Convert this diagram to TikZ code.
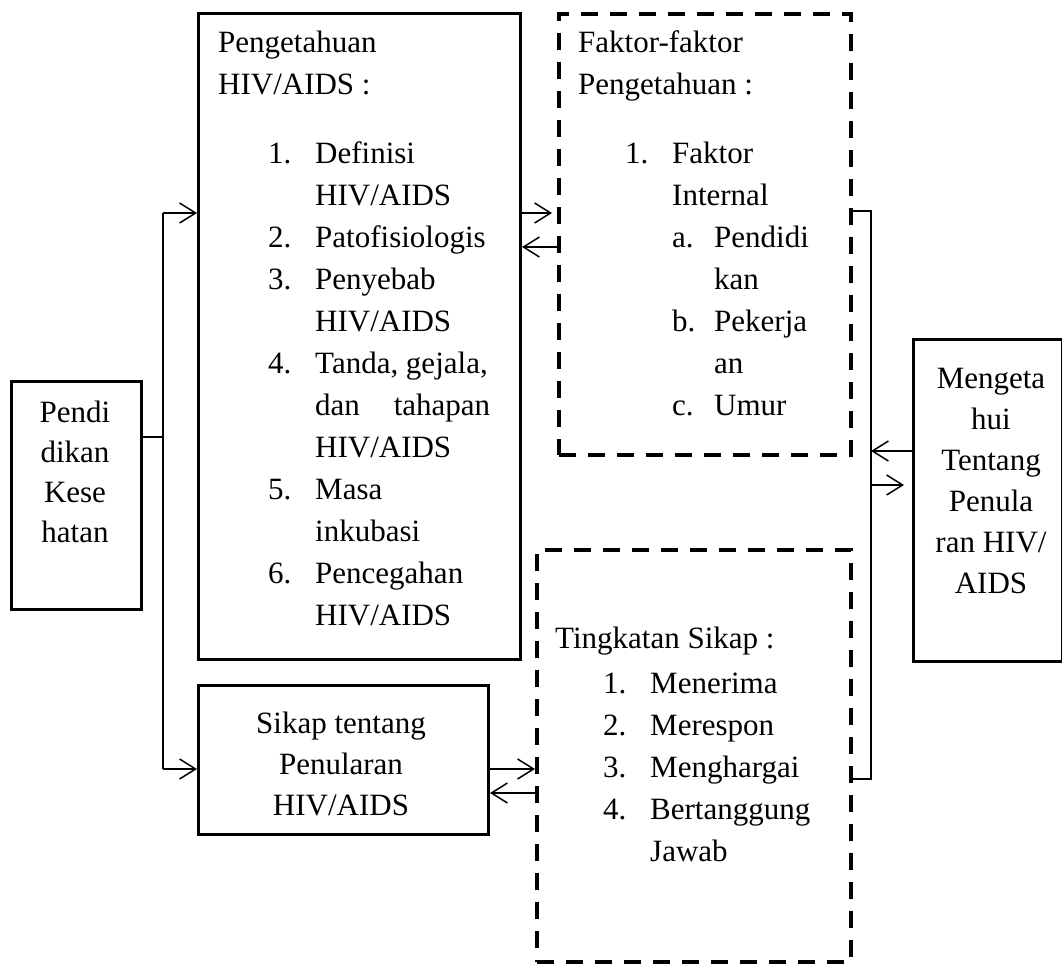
\documentclass[tikz,border=0pt]{standalone}
\usepackage{fontspec}
\setmainfont{Liberation Serif}
\usetikzlibrary{arrows.meta,positioning}

\newcommand{\itm}[3][47pt]{\makebox[#1][l]{#2}#3}
\newcommand{\cnt}[2][47pt]{\hspace*{#1}#2}

\tikzset{
  solidbox/.style={draw,line width=3pt,anchor=north west,inner sep=0pt},
  dashbox/.style={draw,line width=4pt,dash pattern=on 17pt off 12pt,anchor=north west,inner sep=0pt},
  txt/.style={font=\fontsize{31}{42}\selectfont,inner sep=0pt,align=left,anchor=base west},
  ctxt/.style={font=\fontsize{31}{41}\selectfont,inner sep=0pt,align=center,anchor=base},
  link/.style={line width=1.5pt},
  arr/.style={line width=1.5pt,-{Straight Barb[length=16pt,width=20pt]}}
}

\begin{document}
\begin{tikzpicture}[x=1pt,y=-1pt]
\useasboundingbox (0,0) rectangle (1062,974);

	% boxes
	\node[solidbox,minimum width=130pt,minimum height=228pt] (pendbox) at (10,380) {};
	\node[solidbox,minimum width=322pt,minimum height=646pt] (tahubox) at (197,12) {};
	\node[solidbox,minimum width=290pt,minimum height=149pt] (sikapbox) at (197,684) {};
	\node[dashbox,minimum width=292pt,minimum height=441pt] (faktorbox) at (557,12) {};
	\node[dashbox,minimum width=314pt,minimum height=412pt] (tingkatbox) at (535,548) {};
	\node[solidbox,minimum width=149pt,minimum height=322pt] (mengbox) at (912,338) {};

	% texts (base = last line)
	\node[ctxt,font=\fontsize{31}{40}\selectfont] (pendtext) at (75,542) {Pendi\\dikan\\Kese\\hatan};
	\node[txt] (tahuhead) at (218,94) {Pengetahuan\\HIV/AIDS :};
	\node[txt] (tahulist) at (268,625) {\itm{1.}{Definisi}\\ \cnt{HIV/AIDS}\\ \itm{2.}{Patofisiologis}\\
		\itm{3.}{Penyebab}\\ \cnt{HIV/AIDS}\\ \itm{4.}{Tanda, gejala,}\\ \cnt{\makebox[175pt][s]{dan\hfill tahapan}}\\
		\cnt{HIV/AIDS}\\ \itm{5.}{Masa}\\ \cnt{inkubasi}\\ \itm{6.}{Pencegahan}\\ \cnt{HIV/AIDS}};
	\node[ctxt] (sikaptext) at (341,815) {Sikap tentang\\Penularan\\HIV/AIDS};
	\node[txt] (faktorhead) at (578,94) {Faktor-faktor\\Pengetahuan :};
	\node[txt] (faktorlist) at (625,415) {\itm{1.}{Faktor}\\ \cnt{Internal}\\
		\cnt{\itm[42pt]{a.}{Pendidi}}\\ \cnt[89pt]{kan}\\ \cnt{\itm[42pt]{b.}{Pekerja}}\\
		\cnt[89pt]{an}\\ \cnt{\itm[42pt]{c.}{Umur}}};
	\node[txt] (tingkathead) at (555,648) {Tingkatan Sikap :};
	\node[txt] (tingkatlist) at (603,861) {\itm{1.}{Menerima}\\ \itm{2.}{Merespon}\\ \itm{3.}{Menghargai}\\
		\itm{4.}{Bertanggung}\\ \cnt{Jawab}};
	\node[ctxt] (mengtext) at (991,593) {Mengeta\\hui\\Tentang\\Penula\\ran HIV/\\AIDS};

	% connectors
	\coordinate (split) at (163,437);
	\coordinate (ktop) at (163,213);
	\coordinate (kbot) at (163,769);
	\draw[link] (pendbox.east |- split) -- (split);
	\draw[link] (ktop) -- (kbot);
	\draw[arr] (ktop) -- (ktop -| tahubox.west);
	\draw[arr] (kbot) -- (kbot -| sikapbox.west);

	\coordinate (fa) at (0,213);
	\coordinate (fb) at (0,247);
	\draw[arr,shorten >=5pt] (tahubox.east |- fa) -- (faktorbox.west |- fa);
	\draw[arr] (faktorbox.west |- fb) -- (tahubox.east |- fb);

	\coordinate (sa) at (0,769);
	\coordinate (sb) at (0,793);
	\draw[arr] (sikapbox.east |- sa) -- (tingkatbox.west |- sa);
	\draw[arr] (tingkatbox.west |- sb) -- (sikapbox.east |- sb);

	\coordinate (btop) at (871,211);
	\coordinate (bbot) at (871,779);
	\draw[link] (faktorbox.east |- btop) -- (btop) -- (bbot) -- (tingkatbox.east |- bbot);
	\coordinate (ma) at (871,451);
	\coordinate (mb) at (871,485);
	\draw[arr] (mengbox.west |- ma) -- (ma);
	\draw[arr,shorten >=8pt] (mb) -- (mengbox.west |- mb);

\end{tikzpicture}
\end{document}
